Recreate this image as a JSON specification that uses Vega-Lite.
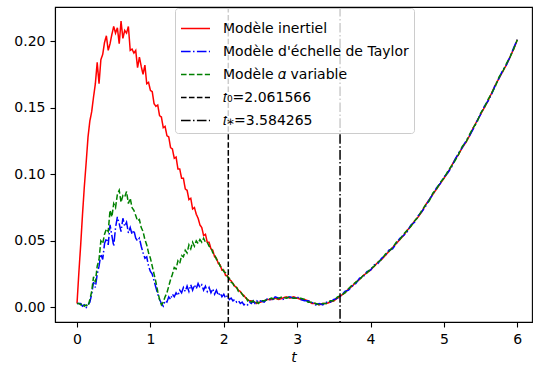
{
"$schema": "https://vega.github.io/schema/vega-lite/v6.json",
"width": 477, "height": 315,
"autosize": {"type": "none"},
"padding": {"left": 55, "top": 7, "right": 1, "bottom": 43},
"config": {
  "font": "DejaVu Sans",
  "view": {"stroke": "black", "strokeWidth": 1.1},
  "axis": {"grid": false, "domainColor": "black", "domainWidth": 1.1, "tickColor": "black", "tickWidth": 1.1, "tickSize": 5, "labelColor": "black", "labelFontSize": 14, "labelFont": "DejaVu Sans", "labelPadding": 5, "titleFont": "DejaVu Sans", "titleFontSize": 14, "titleColor": "black", "titleFontWeight": "normal"},
  "legend": {"orient": "none", "legendX": 120, "legendY": 1, "symbolType": "stroke", "symbolSize": 841, "symbolStrokeWidth": 1.5, "labelFontSize": 14, "labelFont": "DejaVu Sans", "labelColor": "black", "padding": 5, "rowPadding": -6, "labelOffset": 12, "strokeColor": "#cccccc", "fillColor": "rgba(255,255,255,0.8)", "cornerRadius": 3, "labelLimit": 400}
},
"layer": [
  {
    "data": {"values": [
{"t":0,"r":0.003,"b":0.003,"g":0.003},
{"t":0.025,"r":0.026,"b":0.003,"g":0.003},
{"t":0.05,"r":0.047,"b":0.003,"g":0.002},
{"t":0.075,"r":0.070,"b":0.001,"g":0.003},
{"t":0.1,"r":0.091,"b":0.002,"g":0.001},
{"t":0.125,"r":0.109,"b":0.000,"g":0.002},
{"t":0.15,"r":0.128,"b":0.002,"g":0.001},
{"t":0.175,"r":0.140,"b":0.004,"g":0.006},
{"t":0.2,"r":0.147,"b":0.010,"g":0.012},
{"t":0.225,"r":0.158,"b":0.019,"g":0.023},
{"t":0.25,"r":0.168,"b":0.015,"g":0.019},
{"t":0.275,"r":0.184,"b":0.025,"g":0.031},
{"t":0.3,"r":0.168,"b":0.031,"g":0.036},
{"t":0.325,"r":0.186,"b":0.040,"g":0.050},
{"t":0.35,"r":0.190,"b":0.036,"g":0.048},
{"t":0.375,"r":0.199,"b":0.048,"g":0.055},
{"t":0.4,"r":0.204,"b":0.052,"g":0.059},
{"t":0.425,"r":0.193,"b":0.047,"g":0.057},
{"t":0.45,"r":0.198,"b":0.062,"g":0.073},
{"t":0.475,"r":0.205,"b":0.054,"g":0.068},
{"t":0.5,"r":0.211,"b":0.046,"g":0.078},
{"t":0.525,"r":0.206,"b":0.060,"g":0.075},
{"t":0.55,"r":0.210,"b":0.068,"g":0.085},
{"t":0.575,"r":0.198,"b":0.063,"g":0.088},
{"t":0.6,"r":0.215,"b":0.057,"g":0.079},
{"t":0.625,"r":0.202,"b":0.067,"g":0.084},
{"t":0.65,"r":0.208,"b":0.061,"g":0.083},
{"t":0.675,"r":0.206,"b":0.064,"g":0.087},
{"t":0.7,"r":0.211,"b":0.056,"g":0.078},
{"t":0.725,"r":0.193,"b":0.060,"g":0.082},
{"t":0.75,"r":0.194,"b":0.055,"g":0.075},
{"t":0.775,"r":0.191,"b":0.058,"g":0.073},
{"t":0.8,"r":0.193,"b":0.052,"g":0.069},
{"t":0.825,"r":0.180,"b":0.050,"g":0.065},
{"t":0.85,"r":0.188,"b":0.052,"g":0.066},
{"t":0.875,"r":0.181,"b":0.046,"g":0.060},
{"t":0.9,"r":0.175,"b":0.041,"g":0.057},
{"t":0.925,"r":0.182,"b":0.037,"g":0.051},
{"t":0.95,"r":0.168,"b":0.038,"g":0.047},
{"t":0.975,"r":0.169,"b":0.031,"g":0.041},
{"t":1.0,"r":0.163,"b":0.027,"g":0.037},
{"t":1.025,"r":0.162,"b":0.025,"g":0.031},
{"t":1.05,"r":0.153,"b":0.020,"g":0.025},
{"t":1.075,"r":0.151,"b":0.015,"g":0.019},
{"t":1.1,"r":0.152,"b":0.010,"g":0.012},
{"t":1.125,"r":0.144,"b":0.006,"g":0.006},
{"t":1.15,"r":0.143,"b":0.003,"g":0.002},
{"t":1.175,"r":0.135,"b":0.001,"g":0.004},
{"t":1.2,"r":0.136,"b":0.005,"g":0.008},
{"t":1.225,"r":0.129,"b":0.004,"g":0.011},
{"t":1.25,"r":0.128,"b":0.008,"g":0.016},
{"t":1.275,"r":0.120,"b":0.006,"g":0.021},
{"t":1.3,"r":0.119,"b":0.010,"g":0.025},
{"t":1.325,"r":0.112,"b":0.008,"g":0.030},
{"t":1.35,"r":0.113,"b":0.011,"g":0.029},
{"t":1.375,"r":0.104,"b":0.009,"g":0.035},
{"t":1.4,"r":0.104,"b":0.013,"g":0.033},
{"t":1.425,"r":0.097,"b":0.011,"g":0.039},
{"t":1.45,"r":0.097,"b":0.015,"g":0.038},
{"t":1.475,"r":0.089,"b":0.012,"g":0.043},
{"t":1.5,"r":0.088,"b":0.016,"g":0.041},
{"t":1.525,"r":0.081,"b":0.012,"g":0.047},
{"t":1.55,"r":0.082,"b":0.017,"g":0.044},
{"t":1.575,"r":0.074,"b":0.013,"g":0.049},
{"t":1.6,"r":0.075,"b":0.017,"g":0.046},
{"t":1.625,"r":0.070,"b":0.014,"g":0.050},
{"t":1.65,"r":0.067,"b":0.018,"g":0.048},
{"t":1.675,"r":0.062,"b":0.015,"g":0.051},
{"t":1.7,"r":0.060,"b":0.017,"g":0.049},
{"t":1.725,"r":0.054,"b":0.013,"g":0.052},
{"t":1.75,"r":0.055,"b":0.016,"g":0.049},
{"t":1.775,"r":0.049,"b":0.012,"g":0.049},
{"t":1.8,"r":0.049,"b":0.015,"g":0.046},
{"t":1.825,"r":0.044,"b":0.011,"g":0.045},
{"t":1.85,"r":0.043,"b":0.014,"g":0.041},
{"t":1.875,"r":0.038,"b":0.010,"g":0.040},
{"t":1.9,"r":0.037,"b":0.013,"g":0.036},
{"t":1.925,"r":0.033,"b":0.009,"g":0.035},
{"t":1.95,"r":0.032,"b":0.011,"g":0.031},
{"t":1.975,"r":0.028,"b":0.008,"g":0.030},
{"t":2.0,"r":0.028,"b":0.010,"g":0.027},
{"t":2.025,"r":0.024,"b":0.007,"g":0.026},
{"t":2.05,"r":0.024,"b":0.009,"g":0.023},
{"t":2.075,"r":0.021,"b":0.006,"g":0.022},
{"t":2.1,"r":0.020,"b":0.007,"g":0.019},
{"t":2.125,"r":0.018,"b":0.005,"g":0.018},
{"t":2.15,"r":0.016,"b":0.006,"g":0.015},
{"t":2.175,"r":0.015,"b":0.004,"g":0.015},
{"t":2.2,"r":0.013,"b":0.005,"g":0.012},
{"t":2.225,"r":0.012,"b":0.003,"g":0.012},
{"t":2.25,"r":0.010,"b":0.004,"g":0.010},
{"t":2.275,"r":0.009,"b":0.002,"g":0.008},
{"t":2.3,"r":0.007,"b":0.003,"g":0.008},
{"t":2.325,"r":0.006,"b":0.002,"g":0.005},
{"t":2.35,"r":0.005,"b":0.004,"g":0.006},
{"t":2.375,"r":0.005,"b":0.003,"g":0.004},
{"t":2.4,"r":0.004,"b":0.005,"g":0.005},
{"t":2.425,"r":0.004,"b":0.003,"g":0.003},
{"t":2.45,"r":0.003,"b":0.005,"g":0.004},
{"t":2.475,"r":0.004,"b":0.004,"g":0.003},
{"t":2.5,"r":0.004,"b":0.005,"g":0.005},
{"t":2.55,"r":0.005,"b":0.004,"g":0.005},
{"t":2.6,"r":0.006,"b":0.007,"g":0.006},
{"t":2.65,"r":0.006,"b":0.005,"g":0.007},
{"t":2.7,"r":0.007,"b":0.008,"g":0.006},
{"t":2.75,"r":0.006,"b":0.007,"g":0.007},
{"t":2.8,"r":0.007,"b":0.006,"g":0.008},
{"t":2.85,"r":0.008,"b":0.007,"g":0.007},
{"t":2.9,"r":0.007,"b":0.008,"g":0.008},
{"t":2.95,"r":0.008,"b":0.007,"g":0.007},
{"t":3.0,"r":0.007,"b":0.008,"g":0.007},
{"t":3.05,"r":0.006,"b":0.006,"g":0.007},
{"t":3.1,"r":0.006,"b":0.005,"g":0.006},
{"t":3.15,"r":0.005,"b":0.005,"g":0.004},
{"t":3.2,"r":0.003,"b":0.004,"g":0.004},
{"t":3.25,"r":0.003,"b":0.002,"g":0.003},
{"t":3.3,"r":0.002,"b":0.003,"g":0.002},
{"t":3.35,"r":0.003,"b":0.002,"g":0.003},
{"t":3.4,"r":0.003,"b":0.004,"g":0.003},
{"t":3.45,"r":0.004,"b":0.004,"g":0.005},
{"t":3.5,"r":0.005,"b":0.006,"g":0.005},
{"t":3.55,"r":0.007,"b":0.007,"g":0.008},
{"t":3.6,"r":0.009,"b":0.009,"g":0.009},
{"t":3.65,"r":0.011,"b":0.012,"g":0.011},
{"t":3.7,"r":0.014,"b":0.013,"g":0.014},
{"t":3.75,"r":0.016,"b":0.016,"g":0.017},
{"t":3.8,"r":0.019,"b":0.018,"g":0.019},
{"t":3.85,"r":0.021,"b":0.022,"g":0.021},
{"t":3.9,"r":0.024,"b":0.023,"g":0.024},
{"t":3.95,"r":0.026,"b":0.027,"g":0.026},
{"t":4.0,"r":0.028,"b":0.028,"g":0.029},
{"t":4.05,"r":0.031,"b":0.032,"g":0.031},
{"t":4.1,"r":0.034,"b":0.033,"g":0.034},
{"t":4.15,"r":0.036,"b":0.037,"g":0.036},
{"t":4.2,"r":0.039,"b":0.039,"g":0.040},
{"t":4.25,"r":0.042,"b":0.043,"g":0.042},
{"t":4.3,"r":0.045,"b":0.044,"g":0.045},
{"t":4.35,"r":0.048,"b":0.048,"g":0.049},
{"t":4.4,"r":0.051,"b":0.052,"g":0.051},
{"t":4.45,"r":0.054,"b":0.054,"g":0.055},
{"t":4.5,"r":0.058,"b":0.057,"g":0.058},
{"t":4.55,"r":0.061,"b":0.062,"g":0.061},
{"t":4.6,"r":0.065,"b":0.064,"g":0.065},
{"t":4.65,"r":0.068,"b":0.069,"g":0.068},
{"t":4.7,"r":0.072,"b":0.072,"g":0.073},
{"t":4.75,"r":0.077,"b":0.076,"g":0.077},
{"t":4.8,"r":0.081,"b":0.081,"g":0.080},
{"t":4.85,"r":0.085,"b":0.085,"g":0.086},
{"t":4.9,"r":0.089,"b":0.090,"g":0.089},
{"t":4.95,"r":0.093,"b":0.093,"g":0.094},
{"t":5.0,"r":0.097,"b":0.098,"g":0.097},
{"t":5.05,"r":0.101,"b":0.101,"g":0.102},
{"t":5.1,"r":0.106,"b":0.105,"g":0.106},
{"t":5.15,"r":0.111,"b":0.111,"g":0.110},
{"t":5.2,"r":0.115,"b":0.116,"g":0.115},
{"t":5.25,"r":0.120,"b":0.120,"g":0.121},
{"t":5.3,"r":0.124,"b":0.125,"g":0.124},
{"t":5.35,"r":0.129,"b":0.129,"g":0.130},
{"t":5.4,"r":0.135,"b":0.134,"g":0.135},
{"t":5.45,"r":0.140,"b":0.140,"g":0.139},
{"t":5.5,"r":0.145,"b":0.145,"g":0.146},
{"t":5.55,"r":0.150,"b":0.151,"g":0.150},
{"t":5.6,"r":0.155,"b":0.155,"g":0.156},
{"t":5.65,"r":0.161,"b":0.160,"g":0.161},
{"t":5.7,"r":0.167,"b":0.167,"g":0.166},
{"t":5.75,"r":0.172,"b":0.172,"g":0.173},
{"t":5.8,"r":0.177,"b":0.178,"g":0.177},
{"t":5.85,"r":0.182,"b":0.182,"g":0.183},
{"t":5.9,"r":0.188,"b":0.188,"g":0.188},
{"t":5.95,"r":0.194,"b":0.195,"g":0.194},
{"t":6.0,"r":0.201,"b":0.201,"g":0.201}
    ]},
    "transform": [{"fold": ["r", "b", "g"], "as": ["s", "v"]}],
    "mark": {"type": "line", "strokeWidth": 1.5, "clip": true},
    "encoding": {
      "x": {"field": "t", "type": "quantitative", "scale": {"domain": [-0.3, 6.2], "nice": false, "zero": false}, "axis": {"values": [0,1,2,3,4,5,6], "format": "d", "title": "t", "titleFontStyle": "italic", "titlePadding": 4}},
      "y": {"field": "v", "type": "quantitative", "scale": {"domain": [-0.0109, 0.2256], "nice": false, "zero": false}, "axis": {"values": [0, 0.05, 0.1, 0.15, 0.2], "format": ".2f", "title": null}},
      "color": {"field": "s", "type": "nominal", "scale": {"domain": ["r","b","g","t0","ts"], "range": ["#ff0000","#0000ff","#008000","#000000","#000000"]}, "legend": {"title": null, "labelExpr": "datum.label == 'r' ? 'Modèle inertiel' : datum.label == 'b' ? \"Modèle d'échelle de Taylor\" : datum.label == 'g' ? 'Modèle 𝛼 variable' : datum.label == 't0' ? '𝑡₀=2.061566' : '𝑡⁎=3.584265'"}},
      "strokeDash": {"field": "s", "type": "nominal", "scale": {"domain": ["r","b","g","t0","ts"], "range": [[1,0],[9.6,2.4,1.5,2.4],[5.55,2.4],[5.55,2.4],[9.6,2.4,1.5,2.4]]}, "legend": {"title": null, "labelExpr": "datum.label == 'r' ? 'Modèle inertiel' : datum.label == 'b' ? \"Modèle d'échelle de Taylor\" : datum.label == 'g' ? 'Modèle 𝛼 variable' : datum.label == 't0' ? '𝑡₀=2.061566' : '𝑡⁎=3.584265'"}}
    }
  },
  {
    "data": {"values": [{"t": 2.061566, "s": "t0"}, {"t": 3.584265, "s": "ts"}]},
    "mark": {"type": "rule", "strokeWidth": 1.5},
    "encoding": {
      "x": {"field": "t", "type": "quantitative"},
      "color": {"field": "s", "type": "nominal"},
      "strokeDash": {"field": "s", "type": "nominal"}
    }
  }
]
}
